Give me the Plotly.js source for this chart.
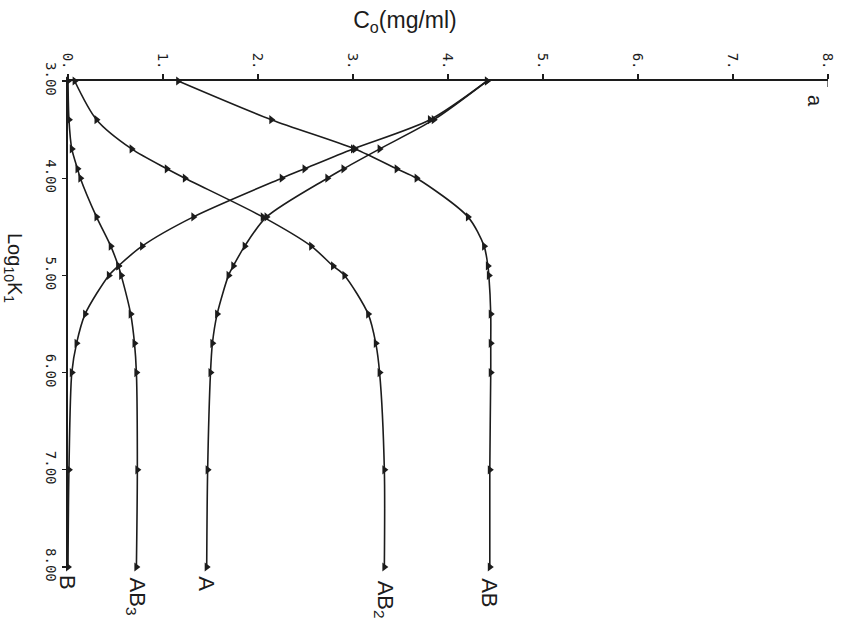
<!DOCTYPE html>
<html>
<head>
<meta charset="utf-8">
<script src="https://cdn.plot.ly/plotly-3.0.1.min.js"></script>
<style>
  html, body { margin: 0; padding: 0; background: #ffffff; }
  #plot { width: 846px; height: 626px; }
</style>
</head>
<body>
<div id="plot"></div>
<script>
// log10 of the first association constant, one entry per computed point
const logK1 = [3.000, 3.398, 3.699, 3.903, 4.000, 4.398, 4.699, 4.903, 5.000, 5.398, 5.699, 6.000, 7.000, 8.000];

// equilibrium concentrations C_o (mg/ml) of each species
const concAB  = [1.16, 2.14, 3.02, 3.46, 3.67, 4.21, 4.38, 4.42, 4.43, 4.45, 4.45, 4.45, 4.44, 4.44];
const concAB2 = [0.07, 0.30, 0.67, 1.04, 1.23, 2.05, 2.56, 2.79, 2.91, 3.16, 3.24, 3.28, 3.33, 3.33];
const concA   = [4.41, 3.85, 3.28, 2.90, 2.73, 2.09, 1.86, 1.74, 1.69, 1.57, 1.52, 1.50, 1.47, 1.46];
const concAB3 = [0.00, 0.01, 0.04, 0.10, 0.13, 0.30, 0.45, 0.53, 0.56, 0.66, 0.70, 0.72, 0.73, 0.72];
const concB   = [4.41, 3.81, 3.00, 2.49, 2.25, 1.32, 0.78, 0.53, 0.43, 0.18, 0.09, 0.04, 0.01, 0.00];

const seriesNames = ['AB', 'AB<sub>2</sub>', 'A', 'AB<sub>3</sub>', 'B'];
const seriesData  = [concAB, concAB2, concA, concAB3, concB];
// label offset below the last point, px (longer names sit lower)
const labelDrop = [26, 33, 17, 30, 15];

// axis ticks
const cTicks = [0, 1, 2, 3, 4, 5, 6, 7, 8];
const cTickText = ['0.', '1.', '2.', '3.', '4.', '5.', '6.', '7.', '8.'];
const kTicks = [3, 4, 5, 6, 7, 8];
const kTickText = ['3.00', '4.00', '5.00', '6.00', '7.00', '8.00'];

const ink = '#1c1c1c';
const sans = 'Liberation Sans, Arial, sans-serif';
const mono = 'DejaVu Sans Mono, monospace';

const traces = seriesData.map((vals, i) => ({
  type: 'scatter',
  mode: 'lines+markers',
  name: seriesNames[i],
  x: vals,
  y: logK1,
  cliponaxis: false,
  line: { color: ink, width: 1.6, shape: 'spline', smoothing: 0.8 },
  marker: { symbol: 'triangle-right', size: 8, color: ink }
}));

// species labels under the end of each curve
const curveLabels = seriesData.map((vals, i) => ({
  text: seriesNames[i],
  x: vals[vals.length - 1],
  y: logK1[logK1.length - 1],
  xref: 'x', yref: 'y',
  xshift: 0,
  yshift: -labelDrop[i],
  showarrow: false,
  textangle: 90,
  font: { family: sans, size: 22, color: ink }
}));

const W = 846, H = 626;
const M = { l: 68, r: 18, t: 81, b: 59 };

const otherLabels = [
  {
    text: 'Log<sub>10</sub>K<sub>1</sub>',
    x: (14 - M.l) / (W - M.l - M.r),
    y: 1 - (268 - M.t) / (H - M.t - M.b),
    xref: 'paper', yref: 'paper', xanchor: 'center', yanchor: 'middle',
    showarrow: false, textangle: 90,
    font: { family: sans, size: 20, color: ink }
  },
  {
    text: 'a',
    x: 8, y: 3, xref: 'x', yref: 'y',
    xshift: -13, yshift: -20,
    showarrow: false, textangle: 90,
    font: { family: sans, size: 20, color: ink }
  }
];

const layout = {
  width: W,
  height: H,
  margin: M,
  paper_bgcolor: '#ffffff',
  plot_bgcolor: '#ffffff',
  showlegend: false,
  title: {
    text: 'C<sub>o</sub>(mg/ml)',
    x: 405 / W, xref: 'container', xanchor: 'center',
    y: 1 - 20 / H, yref: 'container', yanchor: 'middle',
    font: { family: sans, size: 23, color: ink }
  },
  xaxis: {
    side: 'top',
    range: [0, 8],
    showgrid: false, zeroline: false,
    showline: true, linecolor: ink, linewidth: 1.6,
    ticks: 'outside', ticklen: 5, tickwidth: 1.2, tickcolor: ink,
    tickvals: cTicks, ticktext: cTickText,
    tickangle: 90,
    tickfont: { family: mono, size: 14, color: ink }
  },
  yaxis: {
    range: [8, 3],
    showgrid: false, zeroline: false,
    showline: true, linecolor: ink, linewidth: 1.6,
    ticks: 'outside', ticklen: 4, tickwidth: 1.2, tickcolor: ink,
    tickvals: kTicks, ticktext: kTickText,
    tickangle: 90,
    tickfont: { family: mono, size: 14, color: ink }
  },
  shapes: [
    // closing tick at the far end of the concentration axis
    { type: 'line', xref: 'x', yref: 'paper', x0: 8, x1: 8, y0: 1, y1: 1 - 6 / (H - M.t - M.b),
      line: { color: ink, width: 1.2 } }
  ],
  annotations: curveLabels.concat(otherLabels)
};

Plotly.newPlot('plot', traces, layout, { staticPlot: true, displayModeBar: false });
</script>
</body>
</html>
